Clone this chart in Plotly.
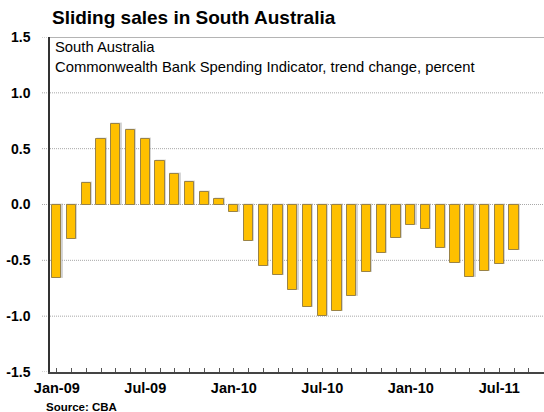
import plotly.graph_objects as go

# Monthly trend change in the CBA Spending Indicator, South Australia (Jan-09 .. Aug-11)
months = ["Jan-09", "Feb-09", "Mar-09", "Apr-09", "May-09", "Jun-09", "Jul-09", "Aug-09",
          "Sep-09", "Oct-09", "Nov-09", "Dec-09", "Jan-10", "Feb-10", "Mar-10", "Apr-10",
          "May-10", "Jun-10", "Jul-10", "Aug-10", "Sep-10", "Oct-10", "Nov-10", "Dec-10",
          "Jan-11", "Feb-11", "Mar-11", "Apr-11", "May-11", "Jun-11", "Jul-11", "Aug-11"]
values = [-0.66, -0.31, 0.19, 0.585, 0.72, 0.67, 0.585, 0.39,
          0.27, 0.20, 0.11, 0.05, -0.07, -0.33, -0.55, -0.63,
          -0.77, -0.92, -1.00, -0.95, -0.815, -0.60, -0.435, -0.30,
          -0.18, -0.215, -0.39, -0.52, -0.645, -0.595, -0.53, -0.41]

tick_positions = [0, 6, 12, 18, 24, 30]
tick_labels = ["Jan-09", "Jul-09", "Jan-10", "Jul-10", "Jan-10", "Jul-11"]
y_ticks = [-1.5, -1.0, -0.5, 0.0, 0.5, 1.0, 1.5]
y_labels = ["-1.5", "-1.0", "-0.5", "0.0", "0.5", "1.0", "1.5"]

title_text = "Sliding sales in South Australia"
subtitle_lines = ["South Australia",
                  "Commonwealth Bank Spending Indicator, trend change, percent"]
source_text = "Source: CBA"

W, H = 544, 412
ML, MR, MT, MB = 50, 0, 37, 40
plot_w = W - ML - MR
plot_h = H - MT - MB
px_per_month = 14.75
x0 = -0.46
x1 = x0 + plot_w / px_per_month

xs = list(range(len(values)))
font = "Liberation Sans, Arial, sans-serif"

fig = go.Figure()

# soft grey shadow under each bar
fig.add_trace(go.Bar(
    x=xs, y=values, width=0.62, offset=-0.31 + 0.08,
    marker=dict(color="rgba(175,175,175,0.45)",
                line=dict(color="rgba(175,175,175,0.45)", width=1.5)),
    hoverinfo="skip", showlegend=False,
))
# main bars
fig.add_trace(go.Bar(
    x=xs, y=values, width=0.62, offset=-0.31,
    marker=dict(color="#FFC000", line=dict(color="#9A8346", width=1)),
    showlegend=False,
))

shapes = []
lead = -8 / plot_w
grid_line = dict(color="#a8a8a8", width=1, dash="1px,1px")
for v in y_ticks:
    shapes.append(dict(type="line", xref="paper", yref="y", x0=lead,
                       x1=1 if abs(v) < 1.5 else 0, y0=v, y1=v,
                       line=grid_line, layer="below"))
# frame line along the top of the plot area
shapes.append(dict(type="line", xref="paper", yref="y", x0=0, x1=1, y0=1.5, y1=1.5,
                   line=dict(color="#6a6a6a", width=1.2), layer="above"))

annotations = [
    dict(text=f"<b>{title_text}</b>", xref="paper", yref="paper",
         x=0, y=1 + (MT - 18) / plot_h, xanchor="left", yanchor="middle",
         showarrow=False, font=dict(family=font, size=19, color="#000")),
    dict(text=subtitle_lines[0], xref="paper", yref="paper",
         x=3 / plot_w, y=1 - (47 - MT) / plot_h, xanchor="left", yanchor="middle",
         showarrow=False, font=dict(family=font, size=14.8, color="#000")),
    dict(text=subtitle_lines[1], xref="paper", yref="paper",
         x=3 / plot_w, y=1 - (67 - MT) / plot_h, xanchor="left", yanchor="middle",
         showarrow=False, font=dict(family=font, size=14.8, color="#000")),
    dict(text=f"<b>{source_text}</b>", xref="paper", yref="paper",
         x=-6 / plot_w, y=-(407 - (MT + plot_h)) / plot_h, xanchor="left", yanchor="middle",
         showarrow=False, font=dict(family=font, size=11.5, color="#000")),
]

fig.update_layout(
    width=W, height=H,
    margin=dict(l=ML, r=MR, t=MT, b=MB, pad=0),
    paper_bgcolor="white", plot_bgcolor="white",
    barmode="overlay", bargap=0,
    shapes=shapes, annotations=annotations,
    xaxis=dict(
        range=[x0, x1], tickmode="array", tickvals=tick_positions, ticktext=tick_labels,
        ticks="inside", ticklen=4, tickcolor="#555", tickwidth=1,
        minor=dict(dtick=1, tick0=0, ticks="inside", ticklen=4, tickcolor="#555", tickwidth=1),
        showline=True, linecolor="#444", linewidth=1.5, showgrid=False, zeroline=False,
        tickfont=dict(family=font, size=14.5, color="#000", weight="bold"),
        ticklabelstandoff=2, fixedrange=True,
    ),
    yaxis=dict(
        range=[-1.5, 1.5], tickmode="array", tickvals=y_ticks, ticktext=y_labels,
        ticks="", showline=True, linecolor="#333", linewidth=1.5,
        showgrid=False, zeroline=False,
        tickfont=dict(family=font, size=14, color="#000", weight="bold"),
        ticklabelstandoff=15, fixedrange=True,
    ),
)

fig.write_html("out.html")
